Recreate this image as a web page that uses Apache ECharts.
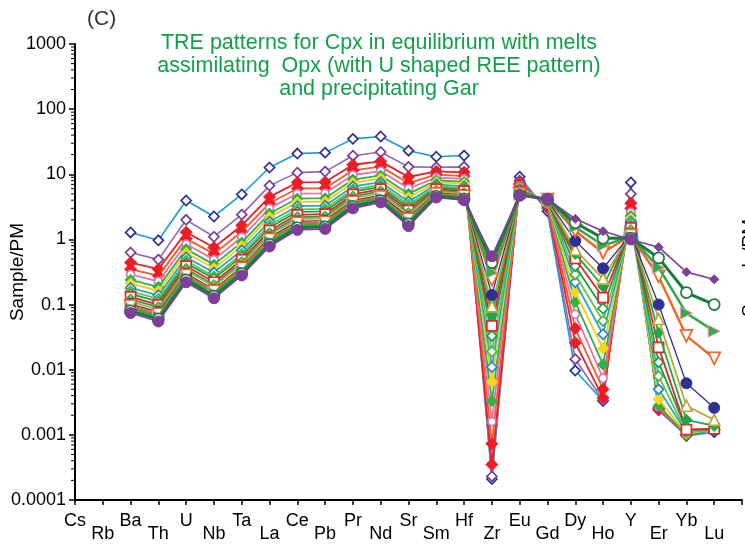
<!DOCTYPE html>
<html><head><meta charset="utf-8">
<script src="https://cdn.jsdelivr.net/npm/echarts@6/dist/echarts.min.js"></script>
<style>html,body{margin:0;padding:0;background:#fff}#c{width:745px;height:550px}</style>
</head><body><div id="c"></div>
<script>
const categories = ['Cs','Rb','Ba','Th','U','Nb','Ta','La','Ce','Pb','Pr','Nd','Sr','Sm','Hf','Zr','Eu','Gd','Dy','Ho','Y','Er','Yb','Lu'];
const yTickLabels = ['0.0001','0.001','0.01','0.1','1','10','100','1000'];

// Sample/PM values, one array per model curve (Cs, Rb not plotted)
const m01 = [null,null,1.28,0.97,3.96,2.25,4.9,12.7,20.8,21.5,35,38,23,18.6,19.4,0.00021,9.2,2.7,0.0097,0.0033,7.5,0.0024,0.00096,0.0011];
const m02 = [null,null,0.63,0.49,2.0,1.1,2.4,6.7,10.6,11,19.3,22,13,12.8,13,0.00023,8.0,3.0,0.0145,0.0034,5.0,0.0024,0.001,0.0012];
const m03 = [null,null,0.44,0.35,1.29,0.75,1.64,4.5,7.5,7.6,14,15.8,9.1,11.1,10.7,0.00035,7.3,3.2,0.026,0.0037,3.6,0.0025,0.001,0.0012];
const m04 = [null,null,0.35,0.276,1.03,0.60,1.31,3.6,6.05,6.1,11.5,13.1,7.3,9.9,9.4,0.00073,6.9,3.4,0.043,0.005,3.0,0.0026,0.001,0.0012];
const m05 = [null,null,0.29,0.227,0.85,0.49,1.08,3.0,5.06,5.1,9.75,11.2,6.05,8.9,8.5,0.0016,6.6,3.5,0.071,0.0074,2.6,0.0027,0.001,0.0012];
const m06 = [null,null,0.24,0.187,0.71,0.41,0.90,2.5,4.24,4.3,8.3,9.6,5.0,8.1,7.65,0.0033,6.3,3.6,0.11,0.012,2.3,0.0028,0.001,0.0012];
const m07 = [null,null,0.21,0.162,0.62,0.36,0.79,2.2,3.73,3.8,7.4,8.65,4.4,7.55,7.1,0.0065,6.1,3.7,0.156,0.021,2.1,0.0035,0.00105,0.0012];
const m08 = [null,null,0.18,0.139,0.53,0.31,0.68,1.87,3.24,3.3,6.5,7.6,3.8,7.0,6.5,0.011,5.9,3.8,0.22,0.035,1.9,0.005,0.0011,0.0012];
const m09 = [null,null,0.16,0.122,0.47,0.27,0.60,1.67,2.9,2.95,5.85,6.9,3.4,6.55,6.1,0.019,5.7,3.85,0.29,0.056,1.75,0.008,0.0011,0.0012];
const m10 = [null,null,0.146,0.111,0.43,0.25,0.55,1.52,2.65,2.7,5.4,6.4,3.1,6.25,5.8,0.033,5.6,3.9,0.39,0.087,1.6,0.013,0.0012,0.0012];
const m11 = [null,null,0.131,0.099,0.39,0.22,0.49,1.37,2.39,2.45,4.9,5.9,2.8,5.9,5.5,0.047,5.4,3.95,0.51,0.128,1.5,0.022,0.0012,0.00124];
const m12 = [null,null,0.12,0.091,0.355,0.20,0.45,1.25,2.2,2.25,4.55,5.5,2.55,5.65,5.2,0.069,5.3,4.0,0.60,0.19,1.4,0.037,0.0017,0.00137];
const m13 = [null,null,0.111,0.084,0.33,0.19,0.42,1.17,2.06,2.1,4.28,5.2,2.4,5.45,5.0,0.094,5.2,4.0,0.70,0.25,1.3,0.06,0.0028,0.0017];
const m14 = [null,null,0.102,0.077,0.30,0.17,0.38,1.07,1.89,1.95,3.95,4.8,2.2,5.2,4.8,0.14,5.1,4.05,0.95,0.36,1.2,0.10,0.0062,0.0026];
const m15 = [null,null,0.095,0.071,0.28,0.16,0.36,1.0,1.77,1.82,3.72,4.5,2.05,5.0,4.6,0.24,5.0,4.1,1.35,0.63,1.15,0.27,0.033,0.0149];
const m16 = [null,null,0.088,0.066,0.26,0.15,0.33,0.93,1.66,1.7,3.5,4.3,1.9,4.8,4.4,0.31,4.9,4.1,1.55,0.81,1.1,0.37,0.074,0.039];
const m17 = [null,null,0.080,0.060,0.24,0.135,0.30,0.84,1.51,1.56,3.21,3.95,1.73,4.6,4.2,0.44,4.8,4.15,1.8,1.04,1.05,0.52,0.153,0.10];
const m18 = [null,null,0.074,0.055,0.22,0.125,0.28,0.78,1.4,1.45,3.0,3.7,1.6,4.4,4.0,0.55,4.7,4.2,2.07,1.34,1.0,0.76,0.315,0.244];

const curves = [m01,m02,m03,m04,m05,m06,m07,m08,m09,m10,m11,m12,m13,m14,m15,m16,m17,m18];
const styles = [
  {line:'#1b9ad8', sym:'diamond', mc:'#2e3192', open:true,  size:10, lw:1.6},
  {line:'#9468b0', sym:'diamond', mc:'#7a3b96', open:true,  size:10, lw:1.6},
  {line:'#ee1c25', sym:'diamond', mc:'#ee1c25', open:false, size:12, lw:1.8},
  {line:'#f15a29', sym:'diamond', mc:'#ee1c25', open:false, size:12, lw:1.8},
  {line:'#ee6ea5', sym:'circle',  mc:'#c77dba', open:true,  size:8,  lw:1.8},
  {line:'#2bb34a', sym:'diamond', mc:'#2bb34a', open:false, size:11, lw:1.8},
  {line:'#fbc715', sym:'diamond', mc:'#f9d71c', open:false, size:11, lw:1.8},
  {line:'#22a9cc', sym:'diamond', mc:'#1c87c9', open:true,  size:10, lw:1.8},
  {line:'#6cc04a', sym:'diamond', mc:'#4fb248', open:true,  size:10, lw:1.8},
  {line:'#17a04b', sym:'diamond', mc:'#17a04b', open:true,  size:10, lw:1.8},
  {line:'#ed2024', sym:'rect',    mc:'#ed2024', open:true,  size:10, lw:1.8},
  {line:'#1fa64a', sym:'diamond', mc:'#1fa64a', open:false, size:11, lw:1.8},
  {line:'#b8a93a', sym:'triangle',mc:'#b8a93a', open:true,  size:11, lw:1.8},
  {line:'#2e3192', sym:'circle',  mc:'#2e3192', open:false, size:11, lw:1.3},
  {line:'#f26522', sym:'triangle',mc:'#f26522', open:true,  size:12, lw:2.4, rot:180},
  {line:'#36a94a', sym:'triangle',mc:'#36a94a', open:false, size:12, lw:2.6, rot:-90, border:'#f59ac0'},
  {line:'#1d7a3c', sym:'circle',  mc:'#1d7a3c', open:true,  size:11, lw:3.0},
  {line:'#7d3f98', sym:'circle',  mc:'#7d3f98', open:false, size:11, lw:1.6}
];

const series = curves.map((arr, k) => {
  const st = styles[k];
  const data = [];
  arr.forEach((v, i) => { if (v !== null) data.push([i, v]); });
  const s = {
    type: 'line', data: data, z: 2 + k * 0.01,
    lineStyle: {color: st.line, width: st.lw},
    symbol: st.sym, symbolSize: st.size, symbolRotate: st.rot || 0,
    showAllSymbol: true,
    itemStyle: st.open
      ? {color: '#ffffff', borderColor: st.mc, borderWidth: 1.7}
      : {color: st.mc, borderColor: st.border || st.mc, borderWidth: 1},
    emphasis: {disabled: true}, silent: true
  };
  if (k === curves.length - 1) {
    s.symbol = function (val) { const i = val[0]; return (i >= 18 && i !== 20) ? 'diamond' : 'circle'; };
    s.symbolSize = function (val) { const i = val[0]; return (i >= 18 && i !== 20) ? 9 : 11; };
  }
  return s;
});

// log-scale minor ticks (2..9 x each decade) drawn along the y axis
const minorVals = [];
for (let e = -4; e < 3; e++) for (let m = 2; m <= 9; m++) minorVals.push([0, m * Math.pow(10, e)]);
series.push({
  type: 'custom', data: minorVals, clip: false, silent: true, z: 5,
  renderItem: function (params, api) {
    const p = api.coord([0, api.value(1)]);
    return {type: 'line', shape: {x1: p[0] - 4, y1: p[1], x2: p[0], y2: p[1]}, style: {stroke: '#000', lineWidth: 1}};
  }
});

const font = "'Liberation Sans', Arial, sans-serif";
const chart = echarts.init(document.getElementById('c'), null, {renderer: 'canvas'});
chart.setOption({
  animation: false,
  backgroundColor: '#ffffff',
  grid: {left: 75, top: 44, width: 672, height: 456, containLabel: false},
  xAxis: {
    type: 'value', min: 0, max: 24, interval: 1,
    splitLine: {show: false},
    axisLine: {lineStyle: {color: '#000', width: 2}},
    axisTick: {inside: false, length: 5, lineStyle: {color: '#000', width: 1.5}},
    axisLabel: {
      margin: 11, color: '#000', fontFamily: font, fontSize: 18,
      formatter: function (v) {
        const i = Math.round(v);
        if (Math.abs(v - i) > 1e-6 || i >= categories.length) return '';
        return i % 2 === 0 ? '{u|' + categories[i] + '}' : '{sp|\u00a0}\n{u|' + categories[i] + '}';
      },
      rich: {
        u: {fontFamily: font, fontSize: 18, lineHeight: 20, color: '#000'},
        sp: {fontSize: 1, lineHeight: 13}
      }
    }
  },
  yAxis: {
    type: 'log', logBase: 10, min: 0.0001, max: 1000, interval: 1,
    position: 'left',
    splitLine: {show: false},
    axisLine: {show: true, lineStyle: {color: '#000', width: 2}},
    axisTick: {inside: false, length: 6, lineStyle: {color: '#000', width: 1.5}},
    axisLabel: {
      margin: 9, color: '#000', fontFamily: font, fontSize: 18,
      formatter: function (v) { const e = Math.round(Math.log10(v)); return yTickLabels[e + 4] || ''; }
    }
  },
  graphic: [
    {type: 'text', left: 87, top: 9, style: {text: '(C)', font: '21px ' + font, fill: '#333'}},
    {type: 'text', x: 379, y: 32, style: {
      text: 'TRE patterns for Cpx in equilibrium with melts\nassimilating  Opx (with U shaped REE pattern)\nand precipitating Gar',
      font: '21.5px ' + font, fill: '#12a04c', align: 'center', verticalAlign: 'top', lineHeight: 23}},
    {type: 'text', x: 8, y: 272, rotation: Math.PI / 2, style: {
      text: 'Sample/PM', font: '19px ' + font, fill: '#000', align: 'center', verticalAlign: 'top'}},
    {type: 'text', x: 740, y: 268, rotation: Math.PI / 2, style: {
      text: 'Sample/PM', font: '19px ' + font, fill: '#000', align: 'center', verticalAlign: 'top'}}
  ],
  series: series
});
</script>
</body></html>
